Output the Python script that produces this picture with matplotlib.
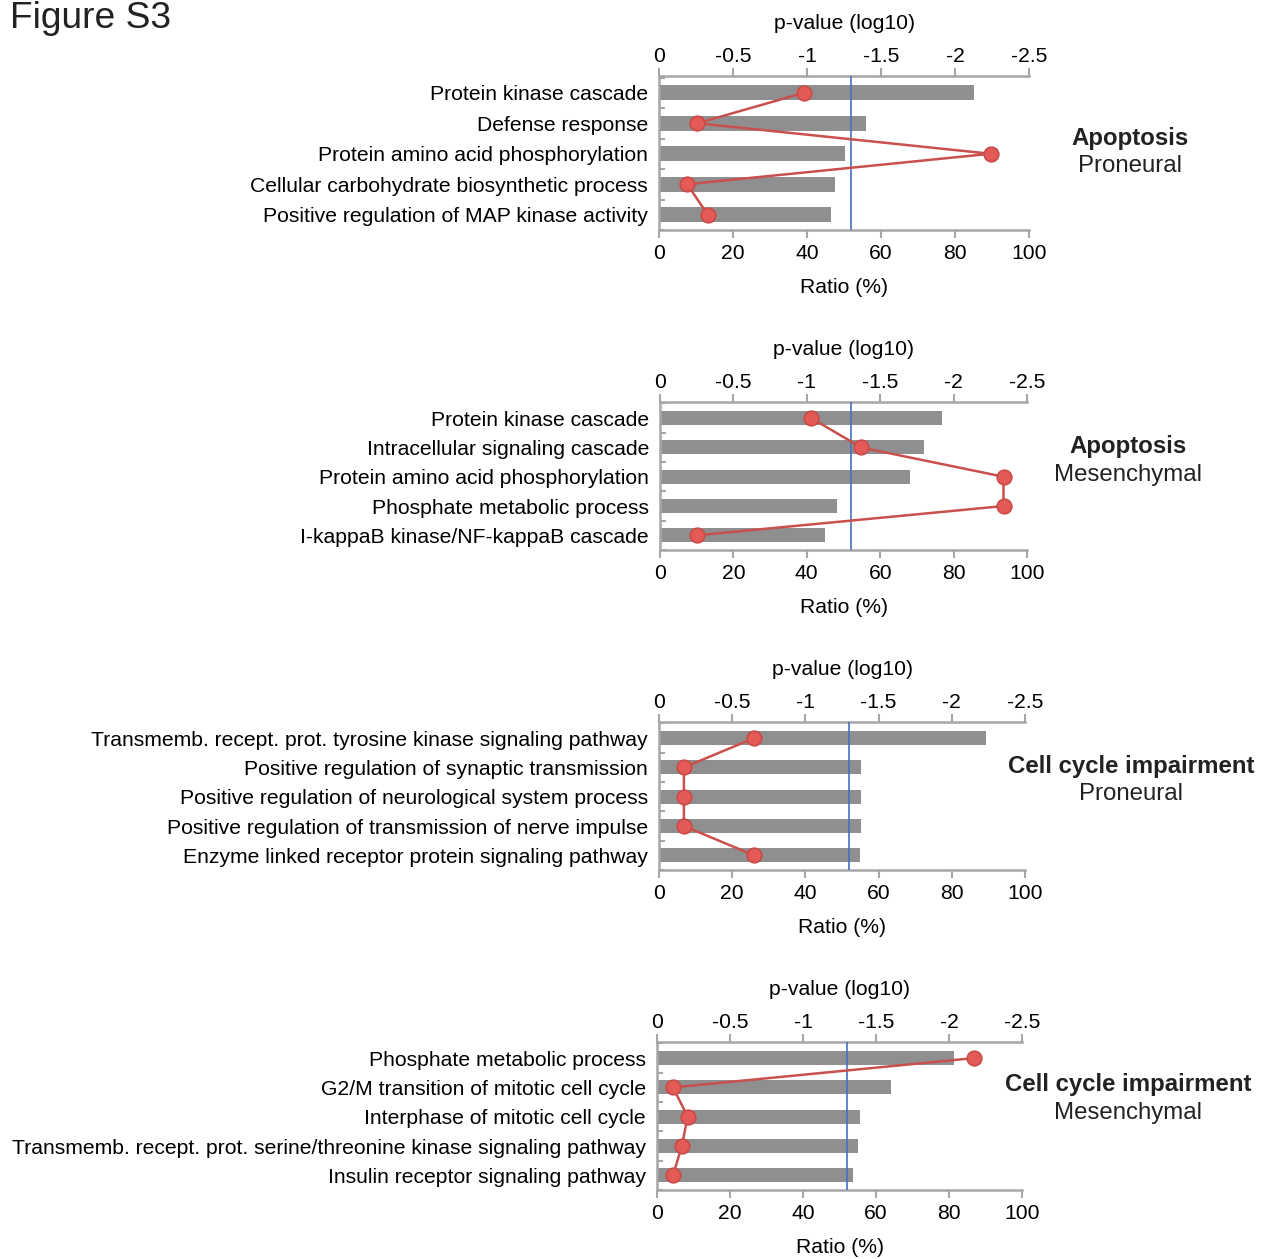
import numpy as np
import matplotlib
matplotlib.use('Agg')
from matplotlib import pyplot as plt

plt.rcParams['font.family'] = ['Liberation Sans', 'DejaVu Sans']
plt.rcParams['text.color'] = '#222222'

W, H = 1275, 1259

# panel 1: Apoptosis / Proneural
terms_1 = ['Protein kinase cascade', 'Defense response',
           'Protein amino acid phosphorylation',
           'Cellular carbohydrate biosynthetic process',
           'Positive regulation of MAP kinase activity']
ratio_1 = [85, 56, 50.4, 47.6, 46.5]
logp_1 = [-0.98, -0.26, -2.24, -0.19, -0.33]

# panel 2: Apoptosis / Mesenchymal
terms_2 = ['Protein kinase cascade', 'Intracellular signaling cascade',
           'Protein amino acid phosphorylation', 'Phosphate metabolic process',
           'I-kappaB kinase/NF-kappaB cascade']
ratio_2 = [76.8, 71.9, 68.0, 48.2, 44.9]
logp_2 = [-1.03, -1.37, -2.34, -2.34, -0.25]

# panel 3: Cell cycle impairment / Proneural
terms_3 = ['Transmemb. recept. prot. tyrosine kinase signaling pathway',
           'Positive regulation of synaptic transmission',
           'Positive regulation of neurological system process',
           'Positive regulation of transmission of nerve impulse',
           'Enzyme linked receptor protein signaling pathway']
ratio_3 = [89.4, 55.3, 55.3, 55.3, 54.8]
logp_3 = [-0.65, -0.17, -0.17, -0.17, -0.65]

# panel 4: Cell cycle impairment / Mesenchymal
terms_4 = ['Phosphate metabolic process',
           'G2/M transition of mitotic cell cycle',
           'Interphase of mitotic cell cycle',
           'Transmemb. recept. prot. serine/threonine kinase signaling pathway',
           'Insulin receptor signaling pathway']
ratio_4 = [81.4, 64.0, 55.6, 55.0, 53.8]
logp_4 = [-2.17, -0.11, -0.21, -0.17, -0.11]

titles = [('Apoptosis', 'Proneural'), ('Apoptosis', 'Mesenchymal'),
          ('Cell cycle impairment', 'Proneural'),
          ('Cell cycle impairment', 'Mesenchymal')]

threshold = -1.3  # log10(0.05)

# pixel boxes (x0, x1, ytop, ybottom) and title centre (x, y)
boxes = [(659, 1029, 76, 230), (660, 1027, 402, 550),
         (659, 1025, 722, 870), (657, 1022, 1042, 1190)]
label_pos = [(1130, 152), (1128, 461), (1131, 780), (1128, 1099)]

spine_col = '#a6a6a6'
bar_col = '#8f8f8f'
fs = 15.2

fig = plt.figure(figsize=(W / 100, H / 100), dpi=100)
fig.text(10 / W, 1 - 18 / H, 'Figure S3', fontsize=26.7, va='center', ha='left')

panels = [(terms_1, ratio_1, logp_1), (terms_2, ratio_2, logp_2),
          (terms_3, ratio_3, logp_3), (terms_4, ratio_4, logp_4)]

for i, (terms, ratio, logp) in enumerate(panels):
    x0, x1, yt, yb = boxes[i]
    ax = fig.add_axes([x0 / W, 1 - yb / H, (x1 - x0) / W, (yb - yt) / H])
    ypos = np.arange(len(terms))
    ax.barh(ypos, ratio, height=0.48, color=bar_col, zorder=2)
    ax.set_xlim(0, 100)
    ax.set_ylim(4.5, -0.55)
    ax.set_xticks(range(0, 101, 20))
    ax.set_yticks(ypos)
    ax.set_yticklabels(terms, fontsize=fs)
    ax.set_yticks(np.arange(-0.5, 4.6, 1), minor=True)
    ax.tick_params(axis='y', which='major', length=0, pad=8)
    ax.tick_params(axis='y', which='minor', length=4, color=spine_col, width=1.5, direction='in')
    ax.tick_params(axis='x', labelsize=fs, length=6, color=spine_col, width=1.5, pad=4)
    ax.set_xlabel('Ratio (%)', fontsize=fs, labelpad=11)
    for s in ['left', 'bottom', 'top']:
        ax.spines[s].set_color(spine_col)
        ax.spines[s].set_linewidth(1.8)
    ax.spines['right'].set_visible(False)

    ax2 = ax.twiny()
    ax2.set_xlim(0, -2.5)
    ax2.set_xticks([0, -0.5, -1, -1.5, -2, -2.5])
    ax2.set_xticklabels(['0', '-0.5', '-1', '-1.5', '-2', '-2.5'])
    ax2.tick_params(axis='x', labelsize=fs, length=6, color=spine_col, width=1.5, pad=1)
    ax2.set_xlabel('p-value (log10)', fontsize=fs, labelpad=13)
    for s in ['left', 'bottom', 'top', 'right']:
        ax2.spines[s].set_visible(False)
    ax2.axvline(threshold, color='#4472c4', lw=1.2, zorder=3)
    ax2.plot(logp, ypos, color='#c9504c', lw=1.8, marker='o', markersize=10.5,
             markerfacecolor='#e35a56', markeredgecolor='#c94a47',
             markeredgewidth=1.2, zorder=4, clip_on=False)

    lx, ly = label_pos[i]
    fig.text(lx / W, 1 - (ly - 14) / H, titles[i][0], fontsize=17.3,
             fontweight='bold', ha='center', va='center')
    fig.text(lx / W, 1 - (ly + 14) / H, titles[i][1], fontsize=17.3,
             ha='center', va='center')

fig.savefig('out.png', dpi=100)
